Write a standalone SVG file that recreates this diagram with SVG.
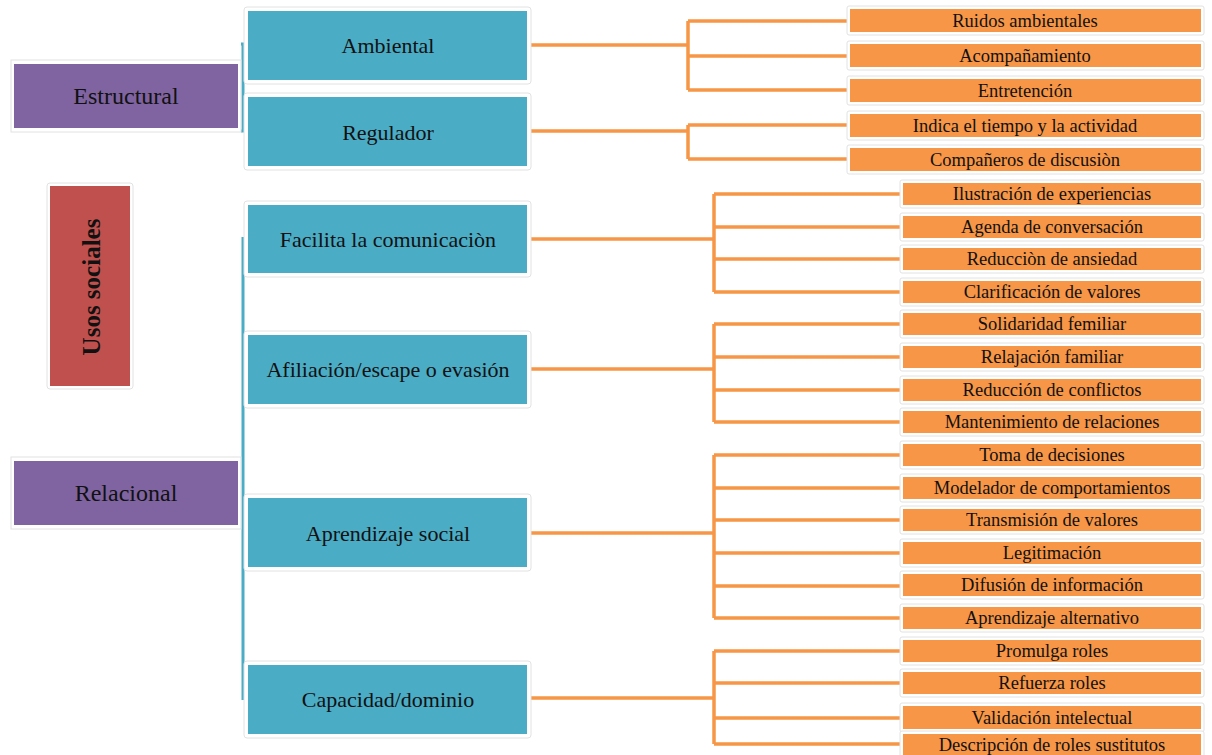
<svg xmlns="http://www.w3.org/2000/svg" width="1212" height="755" viewBox="0 0 1212 755">
<style>
.frame{fill:#fff;stroke:#e2e2e2;stroke-width:1}
.pur{fill:#8064A2}
.blu{fill:#4BACC6}
.red{fill:#C0504D}
.org{fill:#F79646}
.t{font-family:"Liberation Serif","DejaVu Serif",serif;fill:#111;text-anchor:middle;dominant-baseline:central}
.big{font-size:22px}
.pb{font-size:24px}
.sm{font-size:18.5px}
.c{fill:none;stroke:#F79646;stroke-width:3.5}
.b{fill:none;stroke:#4BACC6;stroke-width:3}
</style>
<rect width="1212" height="755" fill="#fff"/>
<g id="connectors">
<path class="b" d="M243 44V131M241 44H246M241 131H246"/>
<path class="b" d="M243 237V700"/>
<path class="c" d="M530 45H688M688 21V90M688 21H850M688 56H850M688 90H850"/>
<path class="c" d="M530 131H688M688 125V159M688 125H850M688 159H850"/>
<path class="c" d="M530 239H714M714 194V292M714 194H903M714 227H903M714 259H903M714 292H903"/>
<path class="c" d="M530 369H714M714 324V422M714 324H903M714 357H903M714 390H903M714 422H903"/>
<path class="c" d="M530 533H714M714 455V618M714 455H903M714 488H903M714 520H903M714 553H903M714 586H903M714 618H903"/>
<path class="c" d="M530 698H714M714 651V744M714 651H903M714 683H903M714 718H903M714 744H903"/>
</g>
<g id="estructural"><rect class="frame" x="11" y="60" width="230" height="72"/><rect class="pur" x="14" y="64" width="224" height="64"/><text class="t pb" x="126" y="96">Estructural</text></g>
<g id="relacional"><rect class="frame" x="11" y="457" width="230" height="72"/><rect class="pur" x="14" y="461" width="224" height="64"/><text class="t pb" x="126" y="493">Relacional</text></g>
<g id="usos"><rect class="frame" x="47" y="183" width="86" height="206" rx="3"/><rect class="red" x="50" y="186" width="80" height="200"/><text class="t" font-size="25" font-weight="bold" transform="translate(91 287) rotate(-90)">Usos sociales</text></g>
<g id="ambiental"><rect class="frame" x="244" y="7" width="287" height="77" rx="3"/><rect class="blu" x="248" y="11" width="279" height="69"/><text class="t big" x="388" y="45">Ambiental</text></g>
<g id="regulador"><rect class="frame" x="244" y="93" width="287" height="77" rx="3"/><rect class="blu" x="248" y="97" width="279" height="69"/><text class="t big" x="388" y="132">Regulador</text></g>
<g id="facilita"><rect class="frame" x="244" y="201" width="287" height="76" rx="3"/><rect class="blu" x="248" y="205" width="279" height="68"/><text class="t big" x="388" y="239">Facilita la comunicaciòn</text></g>
<g id="afiliacion"><rect class="frame" x="244" y="331" width="287" height="77" rx="3"/><rect class="blu" x="248" y="335" width="279" height="69"/><text class="t big" x="388" y="369">Afiliación/escape o evasión</text></g>
<g id="aprendizaje"><rect class="frame" x="244" y="494" width="287" height="77" rx="3"/><rect class="blu" x="248" y="498" width="279" height="69"/><text class="t big" x="388" y="533">Aprendizaje social</text></g>
<g id="capacidad"><rect class="frame" x="244" y="661" width="287" height="77" rx="3"/><rect class="blu" x="248" y="665" width="279" height="69"/><text class="t big" x="388" y="699">Capacidad/dominio</text></g>
<g id="l1"><rect class="frame" x="847" y="6" width="357" height="29" rx="2"/><rect class="org" x="850" y="9" width="351" height="23"/><text class="t sm" x="1025" y="21">Ruidos ambientales</text></g>
<g id="l2"><rect class="frame" x="847" y="41" width="357" height="29" rx="2"/><rect class="org" x="850" y="44" width="351" height="23"/><text class="t sm" x="1025" y="56">Acompañamiento</text></g>
<g id="l3"><rect class="frame" x="847" y="76" width="357" height="29" rx="2"/><rect class="org" x="850" y="79" width="351" height="23"/><text class="t sm" x="1025" y="91">Entretención</text></g>
<g id="l4"><rect class="frame" x="847" y="111" width="357" height="29" rx="2"/><rect class="org" x="850" y="114" width="351" height="23"/><text class="t sm" x="1025" y="126">Indica el tiempo y la actividad</text></g>
<g id="l5"><rect class="frame" x="847" y="145" width="357" height="29" rx="2"/><rect class="org" x="850" y="148" width="351" height="23"/><text class="t sm" x="1025" y="160">Compañeros de discusiòn</text></g>
<g id="l6"><rect class="frame" x="900" y="180" width="304" height="28" rx="2"/><rect class="org" x="903" y="183" width="298" height="22"/><text class="t sm" x="1052" y="194">Ilustración de experiencias</text></g>
<g id="l7"><rect class="frame" x="900" y="213" width="304" height="28" rx="2"/><rect class="org" x="903" y="216" width="298" height="22"/><text class="t sm" x="1052" y="227">Agenda de conversación</text></g>
<g id="l8"><rect class="frame" x="900" y="245" width="304" height="28" rx="2"/><rect class="org" x="903" y="248" width="298" height="22"/><text class="t sm" x="1052" y="259">Reducciòn de ansiedad</text></g>
<g id="l9"><rect class="frame" x="900" y="278" width="304" height="28" rx="2"/><rect class="org" x="903" y="281" width="298" height="22"/><text class="t sm" x="1052" y="292">Clarificación de valores</text></g>
<g id="l10"><rect class="frame" x="900" y="310" width="304" height="28" rx="2"/><rect class="org" x="903" y="313" width="298" height="22"/><text class="t sm" x="1052" y="324">Solidaridad femiliar</text></g>
<g id="l11"><rect class="frame" x="900" y="343" width="304" height="28" rx="2"/><rect class="org" x="903" y="346" width="298" height="22"/><text class="t sm" x="1052" y="357">Relajación familiar</text></g>
<g id="l12"><rect class="frame" x="900" y="376" width="304" height="28" rx="2"/><rect class="org" x="903" y="379" width="298" height="22"/><text class="t sm" x="1052" y="390">Reducción de conflictos</text></g>
<g id="l13"><rect class="frame" x="900" y="408" width="304" height="28" rx="2"/><rect class="org" x="903" y="411" width="298" height="22"/><text class="t sm" x="1052" y="422">Mantenimiento de relaciones</text></g>
<g id="l14"><rect class="frame" x="900" y="441" width="304" height="28" rx="2"/><rect class="org" x="903" y="444" width="298" height="22"/><text class="t sm" x="1052" y="455">Toma de decisiones</text></g>
<g id="l15"><rect class="frame" x="900" y="474" width="304" height="28" rx="2"/><rect class="org" x="903" y="477" width="298" height="22"/><text class="t sm" x="1052" y="488">Modelador de comportamientos</text></g>
<g id="l16"><rect class="frame" x="900" y="506" width="304" height="28" rx="2"/><rect class="org" x="903" y="509" width="298" height="22"/><text class="t sm" x="1052" y="520">Transmisión de valores</text></g>
<g id="l17"><rect class="frame" x="900" y="539" width="304" height="28" rx="2"/><rect class="org" x="903" y="542" width="298" height="22"/><text class="t sm" x="1052" y="553">Legitimación</text></g>
<g id="l18"><rect class="frame" x="900" y="571" width="304" height="28" rx="2"/><rect class="org" x="903" y="574" width="298" height="22"/><text class="t sm" x="1052" y="585">Difusión de información</text></g>
<g id="l19"><rect class="frame" x="900" y="604" width="304" height="28" rx="2"/><rect class="org" x="903" y="607" width="298" height="22"/><text class="t sm" x="1052" y="618">Aprendizaje alternativo</text></g>
<g id="l20"><rect class="frame" x="900" y="637" width="304" height="28" rx="2"/><rect class="org" x="903" y="640" width="298" height="22"/><text class="t sm" x="1052" y="651">Promulga roles</text></g>
<g id="l21"><rect class="frame" x="900" y="669" width="304" height="28" rx="2"/><rect class="org" x="903" y="672" width="298" height="22"/><text class="t sm" x="1052" y="683">Refuerza roles</text></g>
<g id="l22"><rect class="frame" x="900" y="703" width="304" height="29" rx="2"/><rect class="org" x="903" y="706" width="298" height="23"/><text class="t sm" x="1052" y="718">Validación intelectual</text></g>
<g id="l23"><rect class="frame" x="900" y="731" width="304" height="26" rx="2"/><rect class="org" x="903" y="734" width="298" height="21"/><text class="t sm" x="1052" y="745">Descripción de roles sustitutos</text></g>
</svg>
